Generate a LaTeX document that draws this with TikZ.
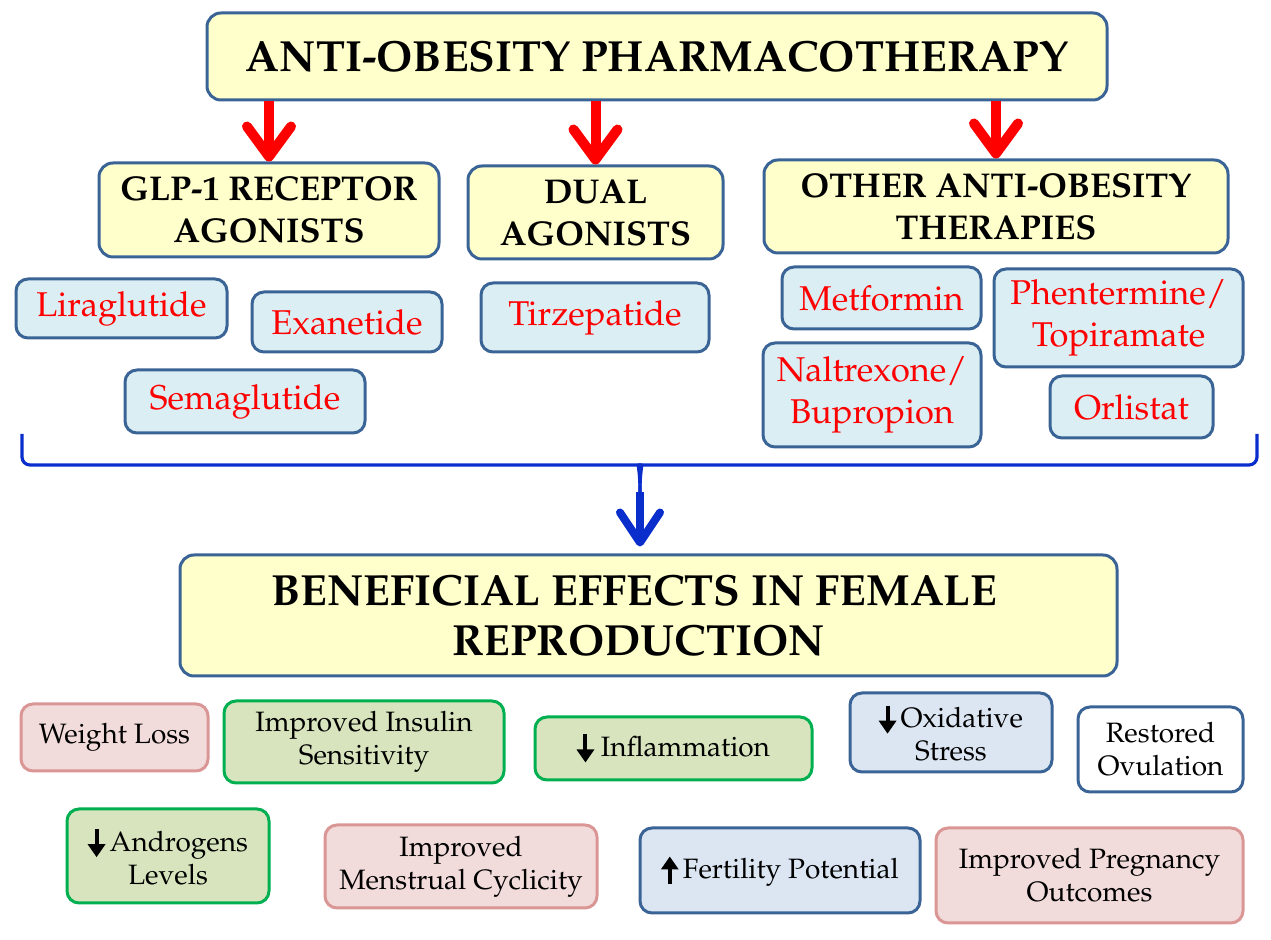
\documentclass[tikz,border=0pt]{standalone}
\usepackage[T1]{fontenc}
\usepackage{mathpazo}
\usetikzlibrary{arrows.meta}
\definecolor{hdrfill}{HTML}{FFFFCC}
\definecolor{hdrline}{HTML}{3B6496}
\definecolor{drugfill}{HTML}{DAEEF3}
\definecolor{pinkfill}{HTML}{F2DCDB}
\definecolor{pinkline}{HTML}{D99694}
\definecolor{greenfill}{HTML}{D7E4BD}
\definecolor{greenline}{HTML}{00B050}
\definecolor{bluefill}{HTML}{DCE6F2}
\definecolor{braceblue}{HTML}{0A2ECC}
\definecolor{arrowred}{HTML}{FF0000}
\newcommand\mybox[7]{\node[#6, minimum width={(#4-#2)*0.5pt}, minimum height={(#5-#3)*0.5pt}] (#1) at ({(#2+#4)/2},{(#3+#5)/2}) {#7};}
\newcommand\dnarr{\tikz[baseline=0pt]\draw[line width=2pt,-{Triangle[length=6.5pt,width=8.5pt]}] (0pt,11pt) -- (0pt,-3pt);}
\newcommand\uparr{\tikz[baseline=0pt]\draw[line width=2pt,-{Triangle[length=6.5pt,width=8.5pt]}] (0pt,-3pt) -- (0pt,11pt);}
\tikzset{
  hdr/.style={draw=hdrline, fill=hdrfill, line width=1.5pt, rounded corners=7pt, inner sep=0pt, align=center, font=\fontsize{17.2}{21}\selectfont\bfseries},
  big/.style={hdr, font=\fontsize{21.8}{25}\selectfont\bfseries},
  drug/.style={draw=hdrline, fill=drugfill, line width=1.5pt, rounded corners=6pt, inner sep=0pt, align=center, text=arrowred, font=\fontsize{17.2}{21}\selectfont},
  eff/.style={line width=1.5pt, rounded corners=6pt, inner sep=0pt, align=center, font=\fontsize{14}{16.5}\selectfont},
  pinkbox/.style={eff, draw=pinkline, fill=pinkfill},
  greenbox/.style={eff, draw=greenline, fill=greenfill},
  bluebox/.style={eff, draw=hdrline, fill=bluefill},
  whitebox/.style={eff, draw=hdrline, fill=white},
  redarrow/.style={draw=arrowred, line width=5pt, -{Straight Barb[length=15pt,width=22pt,round]}},
  bluearrow/.style={draw=braceblue, line width=4pt, -{Straight Barb[length=15pt,width=20pt,round]}},
  brace/.style={draw=braceblue, line width=1.6pt, rounded corners=4pt}
}
\begin{document}
\begin{tikzpicture}[x=0.5pt,y=-0.5pt]
\useasboundingbox (0,0) rectangle (1271,940);
% headers
\mybox{title}{207}{13}{1107}{100}{big}{ANTI-OBESITY PHARMACOTHERAPY}
\mybox{glp}{99}{163}{439}{257}{hdr}{GLP-1 RECEPTOR\\AGONISTS}
\mybox{dual}{468}{166}{723}{259}{hdr}{DUAL\\AGONISTS}
\mybox{other}{764}{160}{1228}{253}{hdr}{OTHER ANTI-OBESITY\\THERAPIES}
% drugs
\mybox{lira}{16}{279}{227}{338}{drug}{Liraglutide}
\mybox{exa}{252}{292}{442}{352}{drug}{Exanetide}
\mybox{sema}{125}{370}{365}{433}{drug}{Semaglutide}
\mybox{tirz}{481}{283}{709}{352}{drug}{Tirzepatide}
\mybox{met}{782}{267}{981}{329}{drug}{Metformin}
\mybox{phen}{994}{269}{1243}{367}{drug}{Phentermine/\\Topiramate}
\mybox{nalt}{763}{343}{981}{447}{drug}{Naltrexone/\\Bupropion}
\mybox{orl}{1050}{376}{1213}{438}{drug}{Orlistat}
% red arrows
\draw[redarrow] (glp.north |- title.south) -- (glp.north);
\draw[redarrow] (dual.north |- title.south) -- (dual.north);
\draw[redarrow] (other.north |- title.south) -- (other.north);
% brace
\coordinate (bl) at (22,434);
\coordinate (br) at (1257,434);
\coordinate (cusp) at (640,492);
\draw[brace] (bl) |- (631,465) .. controls (637,465) and (640,468) .. (cusp);
\draw[brace] (br) |- (649,465) .. controls (643,465) and (640,468) .. (cusp);
% benefits
\mybox{benef}{180}{555}{1117}{676}{big}{BENEFICIAL EFFECTS IN FEMALE\hspace*{14pt}\\REPRODUCTION\hspace*{10pt}}
\draw[bluearrow] (cusp) -- ([yshift=3.5pt]cusp |- benef.north);
% effects row 1
\mybox{wl}{21}{704}{208}{771}{pinkbox}{Weight Loss}
\mybox{ins}{224}{701}{504}{783}{greenbox}{Improved Insulin\\Sensitivity}
\mybox{infl}{535}{717}{812}{780}{greenbox}{\dnarr\ Inflammation}
\mybox{oxi}{850}{693}{1052}{772}{bluebox}{\dnarr\,Oxidative\\Stress}
\mybox{rest}{1078}{707}{1243}{792}{whitebox}{Restored\\Ovulation}
% effects row 2
\mybox{andr}{67}{809}{269}{903}{greenbox}{\dnarr\,Androgens\\Levels}
\mybox{mens}{325}{825}{597}{908}{pinkbox}{Improved\\Menstrual Cyclicity}
\mybox{fert}{640}{828}{920}{913}{bluebox}{\uparr\,Fertility Potential}
\mybox{preg}{936}{828}{1243}{923}{pinkbox}{Improved Pregnancy\\Outcomes}
\end{tikzpicture}
\end{document}
